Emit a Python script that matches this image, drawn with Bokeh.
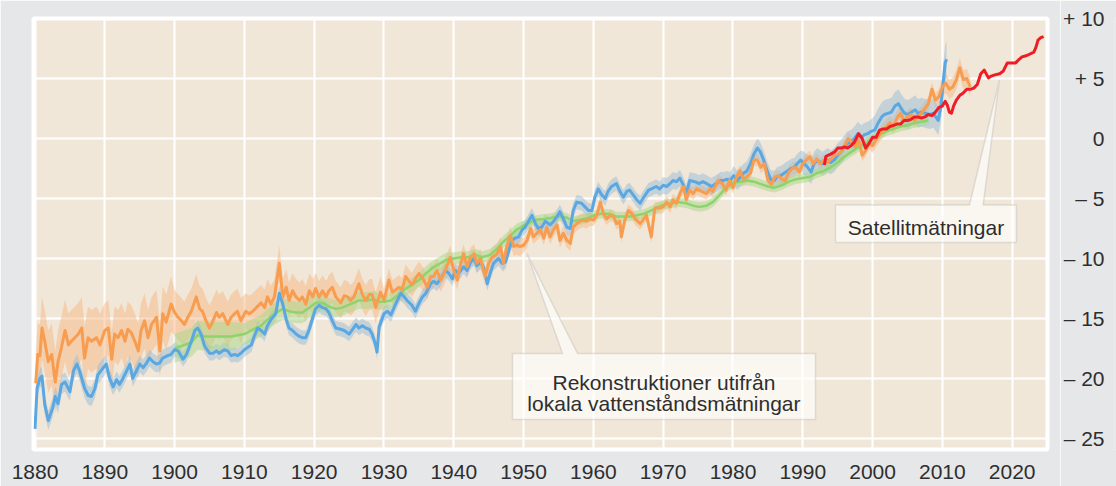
from bokeh.plotting import figure
from bokeh.layouts import row
from bokeh.models import Range1d, FixedTicker, Label, PolyAnnotation
from bokeh.embed import file_html
from bokeh.resources import INLINE

# ---------------- data (cm, relative to ~2000) ----------------
blue_years = [1880.0, 1880.3, 1880.7, 1881.0, 1881.4, 1881.9, 1882.5, 1882.9, 1883.3, 1883.8, 1884.3, 1885.0, 1885.5, 1886.0, 1886.4, 1887.1, 1887.6, 1888.1, 1888.6, 1889.0, 1889.8, 1890.2, 1890.7, 1891.2, 1891.7, 1892.1, 1892.6, 1893.1, 1893.6, 1894.0, 1894.5, 1895.0, 1895.5, 1896.0, 1896.4, 1896.9, 1897.4, 1897.9, 1898.3, 1899.0, 1899.5, 1900.0, 1900.5, 1901.2, 1901.7, 1902.4, 1902.9, 1903.3, 1903.8, 1904.3, 1905.0, 1905.5, 1906.0, 1906.4, 1907.1, 1907.6, 1908.1, 1908.6, 1909.0, 1909.5, 1910.0, 1910.5, 1911.0, 1911.4, 1911.9, 1912.4, 1912.9, 1913.3, 1913.8, 1914.5, 1915.0, 1915.5, 1916.0, 1916.4, 1916.9, 1917.4, 1917.9, 1918.3, 1918.8, 1919.3, 1919.8, 1920.2, 1920.7, 1921.2, 1921.7, 1922.1, 1922.6, 1923.1, 1923.8, 1924.3, 1925.0, 1925.5, 1926.0, 1926.4, 1926.9, 1927.4, 1927.9, 1928.3, 1928.8, 1929.0, 1929.3, 1930.0, 1930.5, 1931.0, 1931.7, 1932.4, 1932.9, 1933.3, 1934.0, 1934.5, 1935.0, 1935.5, 1936.0, 1936.7, 1937.1, 1937.6, 1938.1, 1938.8, 1939.3, 1939.8, 1940.2, 1940.7, 1941.4, 1941.9, 1942.4, 1942.9, 1943.3, 1943.8, 1944.3, 1944.8, 1945.2, 1945.7, 1946.4, 1946.9, 1947.4, 1947.9, 1948.3, 1948.8, 1949.3, 1949.8, 1950.2, 1950.7, 1951.2, 1951.7, 1952.1, 1952.6, 1953.1, 1953.8, 1954.3, 1954.8, 1955.2, 1955.7, 1956.2, 1956.7, 1957.1, 1957.6, 1958.3, 1958.8, 1959.3, 1959.8, 1960.2, 1960.7, 1961.2, 1961.7, 1962.1, 1962.6, 1963.3, 1963.8, 1964.3, 1964.8, 1965.2, 1965.7, 1966.2, 1966.7, 1967.1, 1967.9, 1968.3, 1969.0, 1969.5, 1970.0, 1970.5, 1971.0, 1971.4, 1971.9, 1972.4, 1972.9, 1973.3, 1973.8, 1974.5, 1975.2, 1975.7, 1976.2, 1976.9, 1977.6, 1978.2, 1978.7, 1979.1, 1979.6, 1980.1, 1980.6, 1981.1, 1981.5, 1982.0, 1982.5, 1983.0, 1983.5, 1983.9, 1984.4, 1984.9, 1985.4, 1985.9, 1986.3, 1986.8, 1987.3, 1987.8, 1988.3, 1988.8, 1989.2, 1989.7, 1990.2, 1990.7, 1991.2, 1991.6, 1992.1, 1992.8, 1993.6, 1994.0, 1994.5, 1995.0, 1995.5, 1996.0, 1996.4, 1996.9, 1997.4, 1997.9, 1998.4, 1998.8, 1999.3, 1999.8, 2000.3, 2000.8, 2001.3, 2001.7, 2002.2, 2002.7, 2003.2, 2003.7, 2004.1, 2004.6, 2005.1, 2005.6, 2006.1, 2006.5, 2007.0, 2007.5, 2008.2, 2008.7, 2009.4, 2009.8, 2010.1, 2010.4, 2010.6]
blue_vals = [-24.2, -20.8, -20.0, -19.8, -22.2, -23.5, -22.5, -21.5, -22.1, -20.5, -20.3, -21.1, -19.4, -18.8, -19.4, -20.8, -21.4, -21.5, -20.8, -19.7, -19.1, -18.8, -20.0, -20.7, -20.1, -20.5, -20.0, -19.4, -18.8, -20.0, -19.4, -18.8, -19.1, -18.7, -18.3, -18.6, -18.8, -18.7, -18.3, -18.1, -18.0, -17.6, -17.7, -18.4, -18.0, -16.9, -16.0, -15.8, -16.3, -17.3, -17.9, -17.9, -17.7, -17.9, -17.6, -17.7, -18.1, -18.0, -18.1, -17.9, -17.6, -17.4, -17.2, -16.5, -15.8, -16.0, -16.3, -15.6, -15.1, -14.6, -12.9, -13.8, -15.1, -15.8, -16.0, -16.3, -16.5, -16.6, -16.6, -15.9, -14.9, -14.2, -13.9, -14.1, -14.2, -14.5, -15.2, -15.8, -15.9, -16.0, -16.3, -15.9, -15.5, -15.8, -15.6, -15.8, -15.9, -16.3, -17.2, -17.8, -15.7, -14.6, -14.4, -14.7, -13.75, -12.9, -13.2, -13.5, -13.9, -14.4, -13.75, -13.2, -12.9, -12.1, -11.9, -12.1, -11.7, -11.0, -11.25, -11.7, -11.0, -11.25, -10.7, -11.0, -10.3, -10.0, -10.6, -10.3, -10.8, -12.1, -11.25, -10.4, -10.0, -10.4, -10.3, -9.3, -8.5, -8.3, -8.2, -7.6, -7.4, -6.9, -6.4, -7.1, -7.5, -7.4, -6.9, -7.2, -6.9, -6.5, -6.1, -6.7, -7.4, -7.5, -6.0, -5.3, -5.4, -5.7, -6.0, -6.0, -4.9, -4.2, -4.7, -5.0, -4.4, -4.0, -3.75, -4.4, -4.9, -4.4, -4.3, -4.7, -5.1, -5.4, -5.0, -4.3, -4.2, -4.0, -4.2, -3.9, -4.0, -3.75, -3.5, -3.6, -3.3, -3.9, -4.6, -3.5, -3.6, -3.75, -3.6, -3.75, -4.0, -3.75, -3.5, -3.5, -3.4, -3.5, -3.1, -3.5, -3.2, -2.9, -2.7, -2.1, -1.3, -0.8, -1.1, -1.8, -2.7, -3.4, -3.5, -3.2, -3.1, -2.9, -2.7, -2.5, -2.4, -2.1, -1.8, -2.1, -2.4, -2.8, -2.1, -1.8, -2.1, -1.8, -2.0, -1.8, -1.4, -1.1, -0.7, -0.4, -0.3, 0.0, 0.4, 0.1, 0.3, 0.4, 0.6, 0.7, 1.3, 1.8, 2.0, 2.1, 2.2, 2.7, 2.9, 2.5, 2.1, 2.0, 2.2, 2.4, 2.1, 2.2, 2.1, 2.0, 2.1, 1.5, 2.7, 4.6, 6.3, 6.6]

orange_years = [1880.1, 1880.4, 1880.7, 1881.0, 1881.4, 1881.9, 1882.4, 1882.9, 1883.3, 1883.8, 1884.3, 1884.8, 1885.2, 1885.7, 1886.2, 1886.7, 1887.1, 1887.6, 1888.1, 1888.8, 1889.3, 1890.0, 1890.5, 1891.0, 1891.4, 1891.9, 1892.4, 1892.9, 1893.3, 1893.8, 1894.3, 1894.8, 1895.2, 1895.7, 1896.2, 1896.7, 1897.4, 1897.9, 1898.3, 1898.8, 1899.5, 1900.0, 1900.5, 1901.0, 1901.4, 1901.9, 1902.4, 1903.1, 1903.6, 1904.0, 1904.5, 1905.0, 1905.5, 1906.0, 1906.4, 1906.9, 1907.6, 1908.1, 1908.6, 1909.0, 1909.5, 1910.2, 1910.7, 1911.2, 1911.7, 1912.4, 1912.9, 1913.3, 1913.8, 1914.3, 1915.0, 1915.5, 1916.0, 1916.4, 1916.9, 1917.4, 1917.9, 1918.3, 1918.8, 1919.3, 1919.8, 1920.2, 1920.7, 1921.2, 1921.7, 1922.1, 1922.6, 1923.1, 1923.8, 1924.3, 1924.8, 1925.2, 1925.7, 1926.4, 1926.9, 1927.4, 1927.9, 1928.3, 1928.8, 1929.3, 1929.5, 1930.0, 1930.7, 1931.2, 1931.7, 1932.1, 1932.6, 1933.1, 1933.6, 1934.0, 1934.5, 1935.0, 1935.7, 1936.2, 1936.7, 1937.1, 1937.6, 1938.1, 1938.6, 1939.5, 1940.0, 1940.5, 1941.0, 1941.4, 1941.9, 1942.4, 1942.9, 1943.3, 1943.8, 1944.5, 1945.0, 1945.5, 1946.2, 1946.7, 1947.1, 1947.6, 1948.1, 1948.6, 1949.0, 1949.5, 1950.0, 1950.5, 1951.0, 1951.4, 1951.9, 1952.4, 1952.9, 1953.3, 1953.8, 1954.3, 1954.8, 1955.2, 1955.7, 1956.2, 1956.7, 1957.1, 1957.6, 1958.1, 1958.6, 1959.0, 1959.5, 1960.0, 1960.5, 1961.0, 1961.4, 1961.9, 1962.4, 1962.9, 1963.3, 1963.8, 1964.0, 1964.5, 1965.0, 1965.5, 1966.0, 1966.7, 1967.1, 1967.6, 1968.3, 1968.8, 1969.5, 1970.0, 1970.5, 1971.0, 1971.4, 1971.9, 1972.4, 1972.9, 1973.3, 1973.8, 1974.3, 1974.8, 1975.5, 1976.2, 1976.7, 1977.1, 1977.9, 1978.5, 1979.0, 1979.5, 1980.0, 1980.5, 1981.0, 1981.5, 1982.0, 1982.5, 1983.0, 1983.5, 1984.0, 1984.5, 1985.0, 1985.5, 1986.0, 1986.5, 1987.0, 1987.5, 1988.0, 1988.5, 1989.0, 1989.5, 1990.0, 1990.5, 1991.0, 1991.5, 1992.0, 1992.5, 1993.0, 1993.5, 1994.0, 1994.5, 1995.0, 1995.5, 1996.0, 1996.5, 1997.0, 1997.5, 1998.0, 1998.5, 1999.0, 1999.5, 2000.0, 2000.5, 2001.0, 2001.5, 2002.0, 2002.5, 2003.0, 2003.5, 2004.0, 2004.5, 2005.0, 2005.5, 2006.0, 2006.5, 2007.0, 2007.5, 2008.0, 2008.5, 2009.0, 2009.5, 2010.0, 2010.5, 2011.0, 2011.5, 2012.0, 2012.5, 2013.0, 2013.5, 2014.0]
orange_vals = [-20.4, -18.0, -18.1, -15.8, -16.9, -18.6, -18.0, -20.3, -18.6, -17.4, -16.0, -17.2, -16.9, -16.6, -16.3, -15.8, -18.3, -16.6, -16.9, -16.6, -17.2, -16.0, -15.8, -18.4, -16.3, -16.6, -16.0, -16.9, -15.9, -16.2, -16.9, -17.7, -16.0, -15.2, -16.6, -15.5, -14.9, -17.7, -14.6, -15.3, -13.8, -14.5, -14.9, -15.2, -15.5, -14.9, -14.4, -13.2, -14.2, -14.4, -15.2, -15.8, -15.2, -14.5, -14.9, -14.6, -15.5, -14.9, -14.6, -14.4, -15.2, -14.4, -14.6, -14.4, -14.1, -13.7, -14.1, -13.2, -13.8, -13.2, -10.4, -13.2, -12.4, -13.5, -12.7, -13.2, -13.5, -13.2, -13.8, -12.7, -13.2, -12.5, -13.2, -12.7, -13.2, -12.7, -12.4, -13.2, -13.7, -13.1, -13.2, -13.5, -13.2, -12.1, -13.0, -13.5, -13.0, -13.0, -14.1, -13.2, -12.8, -13.5, -11.8, -12.8, -12.6, -12.4, -12.6, -11.5, -11.9, -12.2, -11.7, -11.25, -11.8, -12.4, -11.5, -11.5, -11.0, -11.8, -11.25, -9.9, -11.0, -11.8, -10.4, -9.6, -10.7, -9.9, -9.6, -10.4, -10.0, -11.5, -10.4, -9.9, -9.6, -9.0, -10.4, -9.0, -8.1, -9.0, -8.9, -9.0, -8.9, -8.5, -7.5, -8.2, -7.9, -7.6, -8.3, -7.4, -8.2, -7.6, -7.2, -8.5, -7.9, -8.5, -8.75, -7.4, -7.1, -6.9, -6.8, -6.9, -6.7, -6.8, -6.4, -5.3, -6.25, -6.7, -6.4, -6.5, -7.1, -6.9, -8.2, -6.8, -6.0, -6.25, -6.7, -7.1, -6.8, -6.4, -8.2, -5.8, -5.8, -5.7, -5.3, -5.7, -5.1, -5.4, -4.6, -4.0, -5.1, -4.3, -4.6, -4.2, -4.4, -4.6, -4.2, -4.4, -3.5, -3.8, -4.3, -3.5, -4.1, -3.2, -2.7, -3.4, -3.2, -2.9, -1.8, -1.8, -2.4, -2.1, -3.5, -3.8, -3.2, -3.1, -3.4, -3.5, -2.8, -2.5, -2.4, -2.8, -2.1, -1.8, -1.5, -2.1, -1.7, -2.1, -1.8, -2.0, -1.7, -1.4, -1.3, -1.1, -0.6, 0.0, -0.3, -0.7, -0.1, -1.4, -1.0, -0.4, -0.6, -0.1, 0.3, 0.7, 1.0, 1.3, 1.0, 1.7, 2.1, 1.5, 1.8, 2.0, 1.5, 1.8, 2.1, 2.5, 2.9, 4.1, 3.2, 3.5, 4.3, 4.6, 4.1, 4.3, 4.9, 5.9, 4.9, 5.0, 4.3]

green_years = [1900.0, 1902.4, 1903.3, 1904.3, 1906.2, 1908.1, 1910.0, 1911.0, 1912.4, 1913.3, 1914.3, 1915.5, 1916.4, 1917.4, 1918.3, 1919.3, 1920.2, 1921.2, 1922.1, 1923.1, 1924.0, 1925.2, 1926.4, 1927.4, 1928.6, 1929.3, 1930.0, 1931.0, 1931.9, 1932.9, 1934.0, 1935.0, 1936.0, 1936.9, 1938.1, 1939.0, 1940.0, 1941.0, 1942.1, 1943.1, 1944.0, 1945.2, 1946.2, 1947.1, 1948.1, 1949.0, 1950.2, 1951.2, 1952.1, 1953.1, 1954.0, 1955.2, 1956.2, 1957.1, 1958.3, 1959.3, 1960.2, 1961.2, 1962.4, 1963.3, 1964.3, 1965.2, 1966.2, 1967.4, 1968.3, 1969.3, 1970.2, 1971.2, 1972.1, 1973.3, 1974.3, 1975.2, 1976.2, 1977.1, 1978.1, 1979.0, 1980.0, 1981.0, 1982.0, 1983.0, 1984.0, 1985.0, 1986.0, 1987.0, 1988.0, 1989.0, 1990.0, 1991.0, 1992.0, 1993.0, 1994.0, 1995.0, 1996.0, 1997.0, 1998.0, 1999.0, 2000.0, 2001.0, 2002.0, 2003.0, 2004.0, 2005.0, 2006.0, 2007.0, 2008.0]
green_vals = [-17.5, -17.0, -16.4, -16.5, -16.5, -16.5, -16.3, -16.0, -15.6, -15.1, -14.6, -14.2, -14.4, -14.5, -14.5, -14.1, -13.7, -13.7, -14.0, -14.2, -14.1, -13.8, -13.5, -13.5, -13.4, -13.6, -13.6, -13.5, -13.1, -12.6, -12.2, -11.8, -11.25, -10.8, -10.4, -10.1, -10.0, -9.9, -9.9, -9.7, -9.9, -9.7, -9.2, -8.6, -8.1, -7.6, -7.2, -6.9, -6.75, -6.7, -6.6, -6.5, -6.6, -6.9, -6.75, -6.6, -6.4, -6.25, -6.3, -6.5, -6.5, -6.5, -6.4, -6.25, -6.0, -5.7, -5.5, -5.4, -5.3, -5.4, -5.6, -5.7, -5.6, -5.3, -4.7, -4.1, -3.7, -3.6, -3.5, -3.6, -3.8, -4.0, -4.1, -3.9, -3.6, -3.4, -3.3, -3.2, -2.9, -2.7, -2.4, -2.0, -1.5, -1.1, -0.7, -0.4, 0.0, 0.3, 0.6, 0.8, 1.0, 1.1, 1.3, 1.4, 1.5]

red_years = [1993.1, 1993.3, 1993.6, 1994.0, 1994.6, 1995.0, 1995.5, 1996.0, 1996.4, 1996.9, 1997.4, 1998.0, 1998.5, 1999.0, 1999.5, 2000.0, 2000.5, 2001.0, 2001.5, 2002.0, 2002.5, 2003.0, 2003.5, 2004.0, 2004.5, 2005.0, 2005.5, 2006.0, 2006.5, 2007.0, 2007.5, 2008.0, 2008.5, 2009.0, 2009.5, 2010.0, 2010.4, 2010.7, 2011.0, 2011.3, 2011.6, 2012.0, 2012.5, 2013.0, 2013.5, 2014.0, 2014.5, 2015.0, 2015.5, 2016.0, 2016.6, 2017.0, 2017.5, 2018.2, 2018.7, 2019.3, 2020.0, 2020.5, 2021.0, 2021.4, 2022.0, 2022.4, 2023.1, 2023.4, 2023.7, 2024.1, 2024.5]
red_vals = [-2.2, -1.5, -1.4, -1.3, -1.1, -0.8, -0.8, -0.7, -0.8, -0.6, -0.3, 0.4, 0.0, -0.8, -0.4, 0.1, 0.1, 0.7, 0.8, 0.8, 1.0, 1.1, 1.2, 1.2, 1.5, 1.5, 1.6, 1.8, 1.8, 1.7, 1.8, 2.0, 1.9, 2.2, 2.6, 2.7, 3.1, 2.8, 2.2, 2.1, 2.7, 3.2, 3.6, 3.8, 4.1, 4.1, 4.2, 4.5, 5.4, 5.7, 5.05, 5.2, 5.3, 5.4, 5.6, 6.3, 6.3, 6.3, 6.6, 6.8, 6.9, 7.0, 7.2, 7.6, 8.2, 8.4, 8.5]

# uncertainty half-widths per decade (cm), first decade listed in *_err_start
blue_err_start, blue_err = 1880, [0.8, 0.7, 0.6, 0.6, 0.6, 0.6, 0.6, 0.6, 0.6, 0.7, 0.8, 1.0, 1.2, 1.5]
orange_err_start, orange_err = 1880, [2.6, 2.3, 1.9, 1.5, 1.3, 1.0, 0.8, 0.6, 0.5, 0.5, 0.5, 0.5, 0.6, 0.8]
green_err_start, green_err = 1900, [1.2, 0.9, 0.7, 0.6, 0.5, 0.4, 0.4, 0.4, 0.4, 0.4, 0.4]

x_ticks = [1880, 1890, 1900, 1910, 1920, 1930, 1940, 1950, 1960, 1970, 1980, 1990, 2000, 2010, 2020]
y_ticks = [10, 5, 0, -5, -10, -15, -20, -25]
y_tick_labels = ["+ 10", "+ 5", "0", "– 5", "– 10", "– 15", "– 20", "– 25"]

callout1_text = ["Rekonstruktioner utifrån", "lokala vattenståndsmätningar"]
callout2_text = "Satellitmätningar"

# ---------------- style ----------------
BEIGE = "#f1e7d8"
GRAY = "#e6e7e9"
TXT = "#2e2e2e"
FONT = "Liberation Sans"


def band(years, vals, start, errs):
    lo, hi = [], []
    for y, v in zip(years, vals):
        e = errs[min(int((y - start) // 10), len(errs) - 1)]
        lo.append(v - e)
        hi.append(v + e)
    return lo, hi


MAIN_W, SIDE_W, H = 1060, 56, 486
yr = Range1d(-25.92, 10.001)

p = figure(width=MAIN_W, height=H, output_backend="svg", toolbar_location=None,
           x_range=Range1d(1879.785, 2025.06), y_range=yr,
           y_axis_location=None,
           min_border_left=33, min_border_right=13, min_border_top=18, min_border_bottom=37)
p.background_fill_color = BEIGE
p.border_fill_color = GRAY
p.outline_line_color = "white"
p.outline_line_width = 4

p.xgrid.ticker = FixedTicker(ticks=x_ticks)
p.ygrid.ticker = FixedTicker(ticks=y_ticks)
p.grid.grid_line_color = "white"
p.grid.grid_line_width = 2

ax = p.xaxis[0]
ax.ticker = FixedTicker(ticks=x_ticks)
ax.axis_line_color = None
ax.major_tick_line_color = None
ax.minor_tick_line_color = None
ax.major_label_standoff = 9
ax.major_label_text_font = FONT
ax.major_label_text_font_size = "21px"
ax.major_label_text_color = TXT

# uncertainty bands
olo, ohi = band(orange_years, orange_vals, orange_err_start, orange_err)
p.varea(x=orange_years, y1=olo, y2=ohi, fill_color="#f7b27a", fill_alpha=0.45)
blo, bhi = band(blue_years, blue_vals, blue_err_start, blue_err)
p.varea(x=blue_years, y1=blo, y2=bhi, fill_color="#8fb8da", fill_alpha=0.45)
glo, ghi = band(green_years, green_vals, green_err_start, green_err)
p.varea(x=green_years, y1=glo, y2=ghi, fill_color="#a9d88a", fill_alpha=0.5)

# lines
p.line(green_years, green_vals, line_color="#8ed36b", line_width=2.5, line_join="round")
p.line(blue_years, blue_vals, line_color="#5ba7e1", line_width=3, line_join="round")
p.line(orange_years, orange_vals, line_color="#f89d50", line_width=3, line_join="round")
p.line(red_years, red_vals, line_color="#ee1c25", line_width=3, line_join="round")


# callouts (box + pointer as one outline)
def callout(left, right, top, bottom, b1, b2, tipx, tipy):
    p.add_layout(PolyAnnotation(
        xs=[left, right, right, b2, tipx, b1, left],
        ys=[bottom, bottom, top, top, tipy, top, top],
        fill_color="white", fill_alpha=0.65, line_color="#a6a6a6", line_width=1.5))


callout(1948.41, 1991.82, -17.92, -23.42, 1955.58, 1957.73, 1950.51, -9.61)
callout(1994.68, 2020.6, -5.54, -8.67, 2013.88, 2015.84, 2018.18, 4.875)

for t, yv in zip(callout1_text, [-20.31, -22.11]):
    p.add_layout(Label(x=1970.11, y=yv, text=t, text_align="center", text_baseline="alphabetic",
                       text_font=FONT, text_font_size="21px", text_color=TXT))
p.add_layout(Label(x=2007.65, y=-7.39, text=callout2_text, text_align="center",
                   text_baseline="alphabetic", text_font=FONT, text_font_size="21px", text_color=TXT))

# right-hand value scale: narrow panel sharing the same y range; its left axis gives
# right-aligned labels
side = figure(width=SIDE_W, height=H, output_backend="svg", toolbar_location=None,
              x_range=Range1d(0, 1), y_range=yr, x_axis_location=None, y_axis_location="left",
              min_border_left=47, min_border_right=0, min_border_top=18, min_border_bottom=37)
side.background_fill_color = GRAY
side.border_fill_color = GRAY
side.outline_line_color = None
side.grid.visible = False
yax = side.yaxis[0]
yax.ticker = FixedTicker(ticks=y_ticks)
yax.major_label_overrides = {v: t for v, t in zip(y_ticks, y_tick_labels)}
yax.axis_line_color = None
yax.major_tick_line_color = None
yax.minor_tick_line_color = None
yax.major_label_standoff = 4
yax.major_label_text_font = FONT
yax.major_label_text_font_size = "21px"
yax.major_label_text_color = TXT

layout = row(p, side, spacing=0)
open("out.html", "w").write(file_html(layout, INLINE))
